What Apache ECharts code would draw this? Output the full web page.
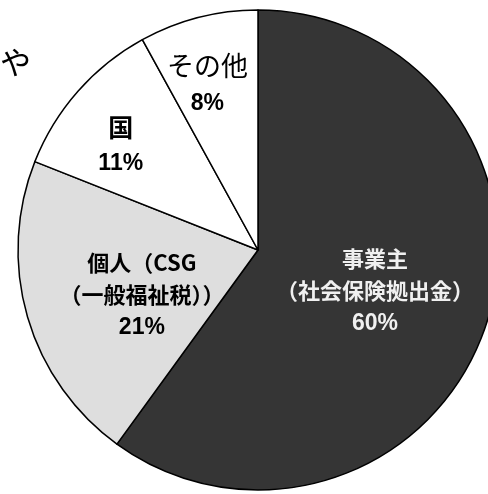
<!DOCTYPE html>
<html>
<head>
<meta charset="utf-8">
<script src="https://cdn.jsdelivr.net/npm/echarts@6/dist/echarts.min.js"></script>
<style>html,body{margin:0;padding:0;background:#fff;}#c{width:488px;height:494px;}</style>
</head>
<body>
<div id="c"></div>
<script>
const categories = ['事業主\n（社会保険拠出金）', '個人（CSG\n（一般福祉税））', '国', 'その他'];
const values = [60, 21, 11, 8];
const sliceColors = ['#353535', '#dedede', '#ffffff', '#ffffff'];
const labelOffsets = [[0, 4], [2, 11], [-45, -21], [-20, -45]];
const labelColors = ['#f0f0f0', '#000000', '#000000', '#000000'];
const nameSizes = [22, 22, 25, 27];

const chart = echarts.init(document.getElementById('c'), null, {renderer: 'canvas'});
chart.setOption({
  animation: false,
  backgroundColor: '#ffffff',
  graphic: [{
    type: 'text', left: 0, top: 47,
    style: {text: 'や', fontSize: 31, fontFamily: 'Noto Sans CJK JP', fill: '#000'}
  }],
  series: [{
    type: 'pie',
    center: [258, 250],
    radius: [0, 240],
    startAngle: 90,
    clockwise: true,
    silent: true,
    itemStyle: {borderColor: '#000', borderWidth: 1.5},
    label: {show: true, position: 'inside'},
    labelLine: {show: false},
    data: categories.map((n, i) => ({
      name: n,
      value: values[i],
      itemStyle: {color: sliceColors[i]},
      label: {
        offset: labelOffsets[i],
        formatter: '{n|{b}}\n{v|{d}%}',
        rich: {
          n: {fontSize: nameSizes[i], fontFamily: 'Noto Sans CJK JP', fontWeight: i === 3 ? 'normal' : 'bold', color: labelColors[i], lineHeight: i === 3 ? 36 : 32, align: 'center'},
          v: {fontSize: 23, fontFamily: 'Liberation Sans Narrow, Liberation Sans', fontWeight: 'bold', color: labelColors[i], lineHeight: i >= 2 ? 40 : 34, align: 'center'}
        }
      }
    }))
  }]
});
</script>
</body>
</html>
